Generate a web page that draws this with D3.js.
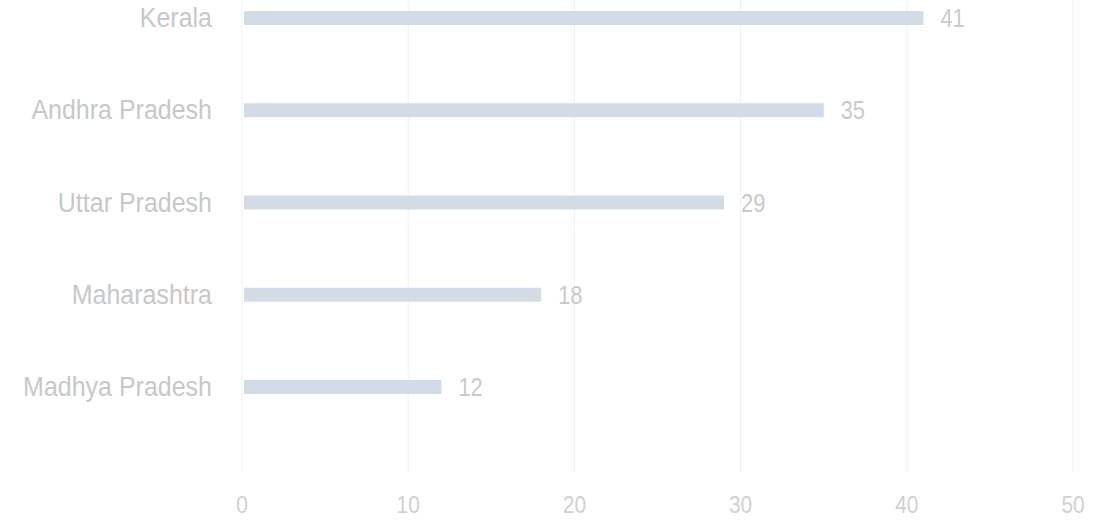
<!DOCTYPE html>
<html>
<head>
<meta charset="utf-8">
<script src="https://cdn.jsdelivr.net/npm/d3@7"></script>
<style>
  body { margin: 0; background: #fff; }
  text { font-family: "Liberation Sans", Arial, sans-serif; }
</style>
</head>
<body>
<svg id="chart" width="1094" height="527"></svg>
<script>
// data
var states = ["Kerala", "Andhra Pradesh", "Uttar Pradesh", "Maharashtra", "Madhya Pradesh"];
var counts = [41, 35, 29, 18, 12];
var ticks = [0, 10, 20, 30, 40, 50];

var svg = d3.select("#chart");

var x = d3.scaleLinear().domain([0, 50]).range([242, 1073]);
var y = d3.scalePoint().domain(states).range([18, 387]);
var barH = 14;

// gridlines
svg.append("g")
  .selectAll("line")
  .data(ticks)
  .enter().append("line")
  .attr("x1", d => x(d)).attr("x2", d => x(d))
  .attr("y1", 0).attr("y2", 472)
  .attr("stroke", "#f1f1f1")
  .attr("stroke-width", 1);

// tick labels (the source text is drawn a bit tall and narrow)
svg.append("g")
  .selectAll("text")
  .data(ticks)
  .enter().append("text")
  .attr("transform", d => "translate(" + x(d) + ",513) scale(0.95,1.12)")
  .attr("text-anchor", "middle")
  .attr("fill", "#d0d0d0")
  .style("font-size", "22px")
  .text(d => d);

// bars
svg.append("g")
  .selectAll("rect")
  .data(counts)
  .enter().append("rect")
  .attr("x", x(0) + 2)
  .attr("y", (d, i) => y(states[i]) - barH / 2)
  .attr("width", d => x(d) - x(0) - 2)
  .attr("height", barH)
  .attr("fill", "#d3dce5");

// value labels
svg.append("g")
  .selectAll("text")
  .data(counts)
  .enter().append("text")
  .attr("transform", (d, i) => "translate(" + (x(d) + 17) + "," + (y(states[i]) + 9) + ") scale(0.95,1.12)")
  .attr("fill", "#cacaca")
  .style("font-size", "23px")
  .text(d => d);

// category labels
svg.append("g")
  .selectAll("text")
  .data(states)
  .enter().append("text")
  .attr("transform", d => "translate(212," + (y(d) + 9) + ") scale(1,1.12)")
  .attr("text-anchor", "end")
  .attr("fill", "#c8c8c8")
  .style("font-size", "25px")
  .text(d => d);
</script>
</body>
</html>
